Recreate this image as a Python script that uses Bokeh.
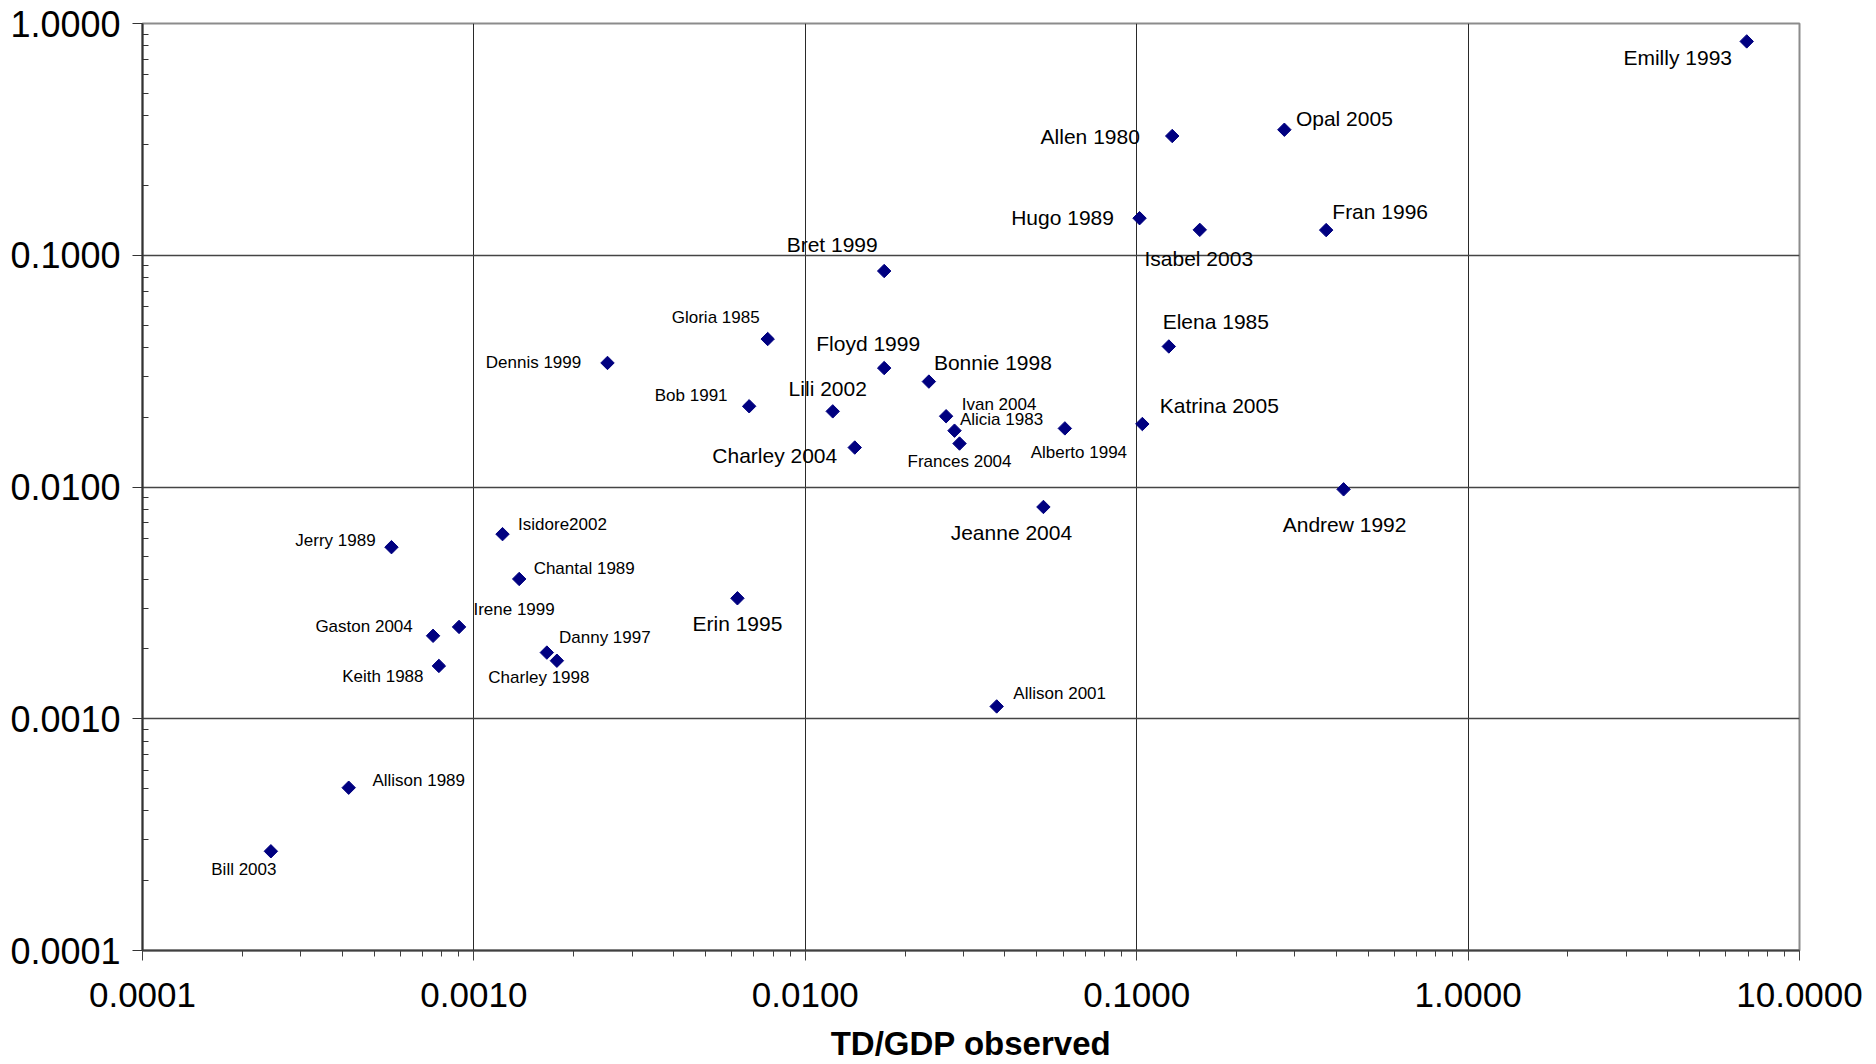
from bokeh.plotting import figure
from bokeh.models import ColumnDataSource, FixedTicker, PrintfTickFormatter, Range1d
from bokeh.embed import file_html
from bokeh.resources import INLINE
from bokeh.core.properties import value
import math

# ---- data ----
names = ["Emilly 1993", "Allen 1980", "Opal 2005", "Hugo 1989", "Isabel 2003",
         "Fran 1996", "Bret 1999", "Gloria 1985", "Dennis 1999", "Floyd 1999",
         "Bonnie 1998", "Elena 1985", "Bob 1991", "Lili 2002", "Ivan 2004",
         "Alicia 1983", "Frances 2004", "Charley 2004", "Alberto 1994", "Katrina 2005",
         "Jeanne 2004", "Andrew 1992", "Jerry 1989", "Isidore2002", "Chantal 1989",
         "Erin 1995", "Irene 1999", "Gaston 2004", "Danny 1997", "Keith 1988",
         "Charley 1998", "Allison 2001", "Allison 1989", "Bill 2003"]

td_gdp_observed = [6.93, 0.128, 0.279, 0.102, 0.155,
                   0.373, 0.0173, 0.0077, 0.00253, 0.0173,
                   0.0236, 0.125, 0.00677, 0.0121, 0.0266,
                   0.0282, 0.0292, 0.0141, 0.0607, 0.104,
                   0.0523, 0.421, 0.000564, 0.00122, 0.00137,
                   0.00624, 0.000902, 0.000753, 0.00166, 0.000784,
                   0.00178, 0.0378, 0.000419, 0.000244]

td_gdp_model = [0.837, 0.327, 0.348, 0.1445, 0.1287,
                0.1284, 0.0855, 0.0435, 0.0343, 0.0326,
                0.0285, 0.0404, 0.0223, 0.0212, 0.0202,
                0.0175, 0.0154, 0.0148, 0.0179, 0.0187,
                0.0082, 0.00977, 0.0055, 0.00626, 0.00401,
                0.00331, 0.00249, 0.00228, 0.00193, 0.00169,
                0.00178, 0.00113, 0.000504, 0.000268]

x_ticks = [0.0001, 0.001, 0.01, 0.1, 1.0, 10.0]
y_ticks = [0.0001, 0.001, 0.01, 0.1, 1.0]
x_title = "TD/GDP observed"

# ---- label placement (screen px offsets from the point) and label size ----
label_dx = [-69, -82, 60, -77, -1,
            54, -52, -52, -74, -16,
            64, 47, -58, -5, 53,
            47, 0, -80, 14, 77,
            -32, 1, -56, 60, 65,
            0, 55, -69, 58, -56,
            -18, 63, 70, -27]
label_dy = [16, 0, -11, -1, 29,
            -19, -27, -22, 0, -25,
            -19, -25, -11, -23, -12,
            -11, 18, 8, 24, -19,
            26, 35, -7, -10, -10,
            25, -17, -9, -15, 11,
            17, -13, -7, 18]
label_big = [True, True, True, True, True,
             True, True, False, False, True,
             True, True, False, True, False,
             False, False, True, False, True,
             True, True, False, False, False,
             True, False, False, False, False,
             False, False, False, False]

FONT = "Liberation Sans"

def minor_of(ticks):
    out = []
    for t in ticks[:-1]:
        for m in range(2, 10):
            out.append(t * m)
    return out

p = figure(width=1876, height=1064,
           x_axis_type="log", y_axis_type="log",
           x_range=Range1d(x_ticks[0], x_ticks[-1]),
           y_range=Range1d(y_ticks[0], y_ticks[-1]),
           output_backend="svg", toolbar_location=None,
           min_border_left=142, min_border_right=77,
           min_border_top=23, min_border_bottom=111)

p.background_fill_color = "white"
p.border_fill_color = "white"
p.outline_line_color = "#8c8c8c"
p.outline_line_width = 2

# x axis
xa = p.xaxis[0]
xa.ticker = FixedTicker(ticks=x_ticks, minor_ticks=minor_of(x_ticks))
xa.formatter = PrintfTickFormatter(format="%.4f")
xa.major_label_text_font = FONT
xa.major_label_text_font_size = "35px"
xa.major_label_text_color = "black"
xa.major_label_standoff = 22
xa.axis_line_color = "#404040"
xa.axis_line_width = 2
xa.major_tick_line_color = "#404040"
xa.minor_tick_line_color = "#404040"
xa.major_tick_in = 0
xa.major_tick_out = 10
xa.minor_tick_in = 0
xa.minor_tick_out = 6
xa.axis_label = x_title
xa.axis_label_text_font = FONT
xa.axis_label_text_font_style = "bold"
xa.axis_label_text_font_size = "33px"
xa.axis_label_text_color = "black"
xa.axis_label_standoff = 15

# y axis
ya = p.yaxis[0]
ya.ticker = FixedTicker(ticks=y_ticks, minor_ticks=minor_of(y_ticks))
ya.formatter = PrintfTickFormatter(format="%.4f")
ya.major_label_text_font = FONT
ya.major_label_text_font_size = "36px"
ya.major_label_text_color = "black"
ya.major_label_standoff = 12
ya.axis_line_color = "#333333"
ya.axis_line_width = 2
ya.major_tick_line_color = "#333333"
ya.minor_tick_line_color = "#333333"
ya.major_tick_in = 0
ya.major_tick_out = 10
ya.minor_tick_in = 6
ya.minor_tick_out = 0

p.xgrid.grid_line_color = "#2a2a2a"
p.ygrid.grid_line_color = "#444444"
p.xgrid.grid_line_width = 1
p.ygrid.grid_line_width = 1.4

src = ColumnDataSource(dict(x=td_gdp_observed, y=td_gdp_model, name=names,
                            dx=label_dx, dy=label_dy))
p.scatter("x", "y", source=src, marker="square", size=9.5, angle=math.pi / 4,
          fill_color="#000080", line_color="#000080")

def subset(flag):
    idx = [i for i, b in enumerate(label_big) if b == flag]
    return ColumnDataSource(dict(
        x=[td_gdp_observed[i] for i in idx],
        y=[td_gdp_model[i] for i in idx],
        name=[names[i] for i in idx],
        dx=[label_dx[i] for i in idx],
        dy=[label_dy[i] for i in idx]))

for flag, size in ((True, "21px"), (False, "17px")):
    p.text("x", "y", text="name", source=subset(flag), x_offset="dx", y_offset="dy",
           text_font=value(FONT), text_font_size=value(size), text_color="black",
           text_align="center", text_baseline="middle")

open("out.html", "w").write(file_html(p, INLINE))
